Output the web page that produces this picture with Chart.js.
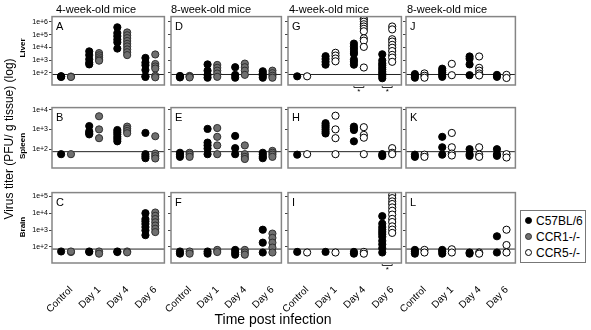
<!DOCTYPE html>
<html><head><meta charset="utf-8">
<script src="https://cdn.jsdelivr.net/npm/chart.js@4/dist/chart.umd.min.js"></script>
<style>
html,body{margin:0;padding:0;background:#fff;width:591px;height:330px;overflow:hidden;font-family:"Liberation Sans",Arial,sans-serif;}
#wrap{position:relative;width:591px;height:330px;}
canvas{position:absolute;}
.t{position:absolute;white-space:nowrap;color:#000;}
.rot{transform:translate(-50%,-50%) rotate(-90deg);}
.lg{position:absolute;left:520px;top:210px;width:66px;height:53px;border:1px solid #777;box-sizing:border-box;}
.mk{position:absolute;width:7px;height:7px;border-radius:50%;box-sizing:border-box;border:1px solid #000;}
</style></head><body><div id="wrap">
<div class="t" style="left:56px;top:3.7px;font-size:11px;line-height:11px;">4-week-old mice</div>
<div class="t" style="left:171px;top:3.7px;font-size:11px;line-height:11px;">8-week-old mice</div>
<div class="t" style="left:289px;top:3.7px;font-size:11px;line-height:11px;">4-week-old mice</div>
<div class="t" style="left:407px;top:3.7px;font-size:11px;line-height:11px;">8-week-old mice</div>
<div class="t rot" style="left:23px;top:48px;font-size:8px;line-height:8px;font-weight:bold;">Liver</div>
<div class="t rot" style="left:23px;top:146px;font-size:8px;line-height:8px;font-weight:bold;">Spleen</div>
<div class="t rot" style="left:23px;top:227px;font-size:8px;line-height:8px;font-weight:bold;">Brain</div>
<div class="t rot" style="left:8.5px;top:139px;font-size:12px;line-height:12px;">Virus titer (PFU/ g tissue) (log)</div>
<div class="t" style="left:273px;top:312.2px;font-size:14px;line-height:14px;transform:translateX(-50%);">Time post infection</div>
<div class="lg"></div>
<div class="mk" style="left:524.8px;top:217.2px;background:#000;"></div>
<div class="mk" style="left:524.8px;top:232.9px;background:#6f6f6f;border-color:#303030;"></div>
<div class="mk" style="left:524.8px;top:248.9px;background:#fff;"></div>
<div class="t" style="left:536px;top:214.8px;font-size:12px;line-height:12px;">C57BL/6</div>
<div class="t" style="left:536px;top:230.5px;font-size:12px;line-height:12px;">CCR1-/-</div>
<div class="t" style="left:536px;top:246.5px;font-size:12px;line-height:12px;">CCR5-/-</div>
</div>
<script>
// ---------- categories / ticks ----------
const timepoints = ['Control', 'Day 1', 'Day 4', 'Day 6'];
const strains = ['C57BL/6', 'CCR1-/-', 'CCR5-/-'];
const liverTicks = [1e2, 1e3, 1e4, 1e5, 1e6];
const spleenTicks = [1e2, 1e3, 1e4];
const brainTicks = [1e2, 1e3, 1e4, 1e5];
const detectionLimit = 75;

// ---------- data: [Control, Day 1, Day 4, Day 6] per series (PFU/g) ----------
// A: liver, 4-week
const liver4wk_C57BL6_A = [[52, 48, 55], [4900, 2500, 1170, 630, 465], [380000, 135000, 77000, 42000, 25000, 8100], [1500, 650, 400, 170, 55, 48]];
const liver4wk_CCR1 = [[52, 48], [3600, 2400, 1660, 1170, 910], [150000, 90000, 54000, 32000, 19000, 12000, 7000, 4200, 2500], [2800, 500, 320, 220, 60, 45]];
// B: spleen, 4-week
const spleen4wk_C57BL6_B = [[56], [1470, 800, 650, 560], [930, 720, 560, 420, 330, 250], [660, 56, 44, 35]];
const spleen4wk_CCR1 = [[56], [4600, 1000, 360], [1380, 1070, 830, 640], [450, 60, 45, 34]];
// C: brain, 4-week
const brain4wk_C57BL6_C = [[54], [50, 54], [54, 50], [10000, 4500, 3300, 2300, 1500, 960, 500]];
const brain4wk_CCR1 = [[50, 54], [54, 40], [54, 48], [11000, 7000, 4500, 2900, 1850, 1200, 760]];
// D: liver, 8-week
const liver8wk_C57BL6_D = [[58, 50, 44], [465, 150, 70, 42], [280, 70, 42], [135, 90, 60, 42]];
const liver8wk_CCR1 = [[58, 50, 44], [420, 250, 150, 90, 49], [540, 280, 150, 70], [150, 95, 60, 42]];
// E: spleen, 8-week
const spleen8wk_C57BL6_E = [[66, 53, 41], [1060, 215, 155, 107, 56], [465, 113, 56], [66, 53, 41, 35]];
const spleen8wk_CCR1 = [[66, 53, 41], [1170, 420, 155, 56], [155, 56, 41, 32], [82, 66, 53, 41]];
// F: brain, 8-week
const brain8wk_C57BL6_F = [[54, 40], [54, 40], [67, 47, 35], [1050, 180, 47]];
const brain8wk_CCR1 = [[54, 40], [67, 50], [67, 47, 35], [620, 345, 180, 92, 47]];
// G: liver, 4-week
const liver4wk_C57BL6_G = [[54], [2050, 1230, 740, 440], [20000, 12000, 7400, 4400, 3100, 1100, 740, 440], [2900, 950, 570, 400, 265, 185, 122, 86, 57, 38]];
const liver4wk_CCR5 = [[54], [3800, 2300, 1350, 810], [1900000, 1500000, 1050000, 660000, 440000, 290000, 185000, 52000, 34000, 11000, 265], [440000, 260000, 44000, 29000, 16000, 9500, 5200, 2600, 1600, 740]];
// H: spleen, 4-week
const spleen4wk_C57BL6_H = [[53], [2050, 1600, 1290, 1000, 770, 620], [1380, 1100, 930, 250], [56, 45]];
const spleen4wk_CCR5 = [[56], [4900, 1000, 360, 56], [1290, 525, 380, 56], [113, 66, 56]];
// I: brain, 4-week
const brain4wk_C57BL6_I = [[51], [51], [51, 40], [6700, 2400, 1500, 1070, 780, 570, 400, 230, 143, 84, 47]];
const brain4wk_CCR5 = [[47], [47], [51, 40], [120000, 78000, 50000, 35000, 22000, 14000, 8300, 4600, 3000, 1660, 1070, 680]];
// J: liver, 8-week
const liver8wk_C57BL6_J = [[81, 60, 42], [215, 150, 105, 70, 49], [1950, 1290, 465, 66], [70, 49]];
const liver8wk_CCR5 = [[91, 60, 42], [515, 66], [1950, 250, 150, 90, 63], [70, 40]];
// K: spleen, 8-week
const spleen8wk_C57BL6_K = [[53, 41], [420, 125, 53], [100, 56, 46], [100, 56, 46]];
const spleen8wk_CCR5 = [[53, 41], [660, 125, 60, 48], [125, 53, 41], [56, 38]];
// L: brain, 8-week
const brain8wk_C57BL6_L = [[67, 54, 40], [67, 54, 40], [47, 40], [430, 47]];
const brain8wk_CCR5 = [[67, 47], [73, 47], [47, 40], [1050, 130, 47]];
// significant differences (group index) marked with *
const sigLiverG = [2, 3];
const sigBrainI = [3];

// ---------- layout / style ----------
Chart.defaults.font.family = '"Liberation Sans", Arial, sans-serif';
Chart.defaults.color = '#000';
const colLeft = [52, 171, 288, 406], colW = [113, 111, 114, 110];
const rowTop = [16, 107, 192], rowH = [81, 73, 71];
const rowTicks = [liverTicks, spleenTicks, brainTicks];
const rowMax = [Math.pow(10, 6.42), Math.pow(10, 4.1), Math.pow(10, 5.22)];
const yMin = Math.pow(10, 1.05);
const OFF = 0.175;
const STYLE = {
  c57: { bg: '#000000', border: '#000000' },
  ccr1: { bg: '#6f6f6f', border: '#303030' },
  ccr5: { bg: '#ffffff', border: '#000000' }
};

function toPoints(groups, dx) {
  const pts = [];
  groups.forEach((vals, g) => vals.forEach(v => pts.push({ x: g + dx, y: v })));
  return pts;
}

const panelDecor = {
  id: 'panelDecor',
  afterDraw(chart, args, opts) {
    const { ctx, chartArea: a, scales } = chart;
    ctx.save();
    ctx.strokeStyle = '#858585'; ctx.lineWidth = 1.5;
    ctx.strokeRect(a.left, a.top, a.right - a.left, a.bottom - a.top);
    ctx.fillStyle = '#000';
    ctx.font = '11px "Liberation Sans", Arial, sans-serif';
    ctx.textAlign = 'left'; ctx.textBaseline = 'alphabetic';
    ctx.fillText(opts.letter, a.left + 4, a.top + 13);
    (opts.sig || []).forEach(g => {
      const x1 = scales.x.getPixelForValue(g - OFF), x2 = scales.x.getPixelForValue(g + OFF);
      const y = a.bottom + 2.5;
      ctx.strokeStyle = '#000'; ctx.lineWidth = 0.8;
      ctx.beginPath(); ctx.moveTo(x1, y - 1.5); ctx.lineTo(x1, y); ctx.lineTo(x2, y); ctx.lineTo(x2, y - 1.5); ctx.stroke();
      ctx.font = '8px "Liberation Sans", Arial, sans-serif';
      ctx.textAlign = 'center'; ctx.textBaseline = 'top';
      ctx.fillText('*', (x1 + x2) / 2, y + 0.5);
    });
    ctx.restore();
  }
};

const wrap = document.getElementById('wrap');

function makePanel(p) {
  const r = p.row, c = p.col;
  const padL = c === 0 ? 52 : 12, padT = 4, padR = 4, padB = r === 2 ? 64 : 12;
  const W = colW[c] + padL + padR, H = rowH[r] + padT + padB;
  const cv = document.createElement('canvas');
  cv.width = W; cv.height = H;
  cv.style.left = (colLeft[c] - padL) + 'px';
  cv.style.top = (rowTop[r] - padT) + 'px';
  cv.style.width = W + 'px'; cv.style.height = H + 'px';
  wrap.insertBefore(cv, wrap.firstChild);
  const s1 = STYLE.c57, s2 = STYLE[p.s2style];
  new Chart(cv, {
    type: 'scatter',
    data: {
      datasets: [
        { label: strains[0], data: toPoints(p.s1, -OFF), backgroundColor: s1.bg, borderColor: s1.border,
          pointRadius: 3.6, pointHoverRadius: 3.6, borderWidth: 1 },
        { label: p.s2name, data: toPoints(p.s2, OFF), backgroundColor: s2.bg, borderColor: s2.border,
          pointRadius: 3.6, pointHoverRadius: 3.6, borderWidth: 1 },
        { type: 'line', label: 'detection limit', data: [{ x: -0.5, y: detectionLimit }, { x: 3.5, y: detectionLimit }],
          borderColor: '#222', borderWidth: 1, pointRadius: 0, fill: false }
      ]
    },
    options: {
      responsive: false, animation: false, events: [],
      layout: { padding: { left: 0, top: padT, right: padR, bottom: r === 2 ? 0 : padB } },
      plugins: { legend: { display: false }, tooltip: { enabled: false }, panelDecor: { letter: p.letter, sig: p.sig } },
      scales: {
        x: {
          type: 'linear', min: -0.5, max: 3.5, display: r === 2,
          grid: { display: false }, border: { display: false },
          afterBuildTicks: s => { s.ticks = timepoints.map((t, i) => ({ value: i })); },
          ticks: { autoSkip: false, minRotation: 45, maxRotation: 45, font: { size: 10 }, padding: 13, labelOffset: 5,
                   callback: v => timepoints[v] !== undefined ? timepoints[v] : '' },
          afterFit: s => { s.height = padB; s.paddingLeft = 0; s.paddingRight = 0; }
        },
        y: {
          type: 'logarithmic', min: yMin, max: rowMax[r],
          grid: { display: true, drawOnChartArea: false, drawTicks: true, tickLength: 3, color: '#444' },
          border: { display: false },
          afterBuildTicks: s => { s.ticks = rowTicks[r].map(v => ({ value: v })); },
          ticks: { display: c === 0, padding: 1, font: { size: 7 },
                   callback: v => '1e+' + Math.round(Math.log10(v)) },
          afterFit: s => { s.width = padL; s.paddingTop = 0; s.paddingBottom = 0; }
        }
      }
    },
    plugins: [panelDecor]
  });
}

const panels = [
  { letter: 'A', row: 0, col: 0, s1: liver4wk_C57BL6_A, s2: liver4wk_CCR1, s2style: 'ccr1', s2name: strains[1] },
  { letter: 'B', row: 1, col: 0, s1: spleen4wk_C57BL6_B, s2: spleen4wk_CCR1, s2style: 'ccr1', s2name: strains[1] },
  { letter: 'C', row: 2, col: 0, s1: brain4wk_C57BL6_C, s2: brain4wk_CCR1, s2style: 'ccr1', s2name: strains[1] },
  { letter: 'D', row: 0, col: 1, s1: liver8wk_C57BL6_D, s2: liver8wk_CCR1, s2style: 'ccr1', s2name: strains[1] },
  { letter: 'E', row: 1, col: 1, s1: spleen8wk_C57BL6_E, s2: spleen8wk_CCR1, s2style: 'ccr1', s2name: strains[1] },
  { letter: 'F', row: 2, col: 1, s1: brain8wk_C57BL6_F, s2: brain8wk_CCR1, s2style: 'ccr1', s2name: strains[1] },
  { letter: 'G', row: 0, col: 2, s1: liver4wk_C57BL6_G, s2: liver4wk_CCR5, s2style: 'ccr5', s2name: strains[2], sig: sigLiverG },
  { letter: 'H', row: 1, col: 2, s1: spleen4wk_C57BL6_H, s2: spleen4wk_CCR5, s2style: 'ccr5', s2name: strains[2] },
  { letter: 'I', row: 2, col: 2, s1: brain4wk_C57BL6_I, s2: brain4wk_CCR5, s2style: 'ccr5', s2name: strains[2], sig: sigBrainI },
  { letter: 'J', row: 0, col: 3, s1: liver8wk_C57BL6_J, s2: liver8wk_CCR5, s2style: 'ccr5', s2name: strains[2] },
  { letter: 'K', row: 1, col: 3, s1: spleen8wk_C57BL6_K, s2: spleen8wk_CCR5, s2style: 'ccr5', s2name: strains[2] },
  { letter: 'L', row: 2, col: 3, s1: brain8wk_C57BL6_L, s2: brain8wk_CCR5, s2style: 'ccr5', s2name: strains[2] }
];
panels.forEach(makePanel);
</script>
</body></html>
